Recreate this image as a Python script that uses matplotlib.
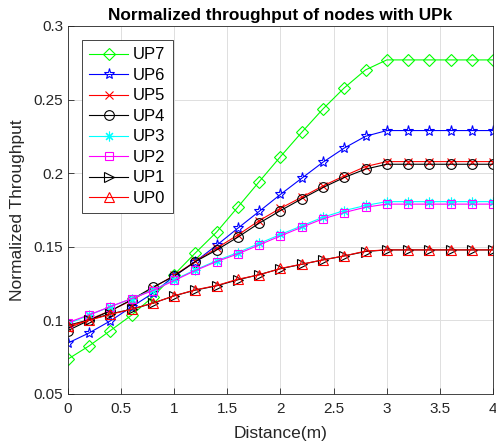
import matplotlib
matplotlib.use('Agg')
import matplotlib.pyplot as plt

plt.rcParams['font.family'] = ['Liberation Sans', 'DejaVu Sans']

distance = [0, 0.2, 0.4, 0.6, 0.8, 1.0, 1.2, 1.4, 1.6, 1.8, 2.0,
            2.2, 2.4, 2.6, 2.8, 3.0, 3.2, 3.4, 3.6, 3.8, 4.0]

up7 = [0.0736, 0.0826, 0.0930, 0.1035, 0.1160, 0.1310, 0.1458, 0.1600, 0.1770, 0.1942, 0.2112,
       0.2277, 0.2436, 0.2579, 0.2701, 0.2769, 0.2769, 0.2769, 0.2769, 0.2769, 0.2769]
up6 = [0.0845, 0.0914, 0.0996, 0.1091, 0.1184, 0.1300, 0.1399, 0.1510, 0.1626, 0.1740, 0.1855,
       0.1965, 0.2074, 0.2170, 0.2250, 0.2289, 0.2289, 0.2289, 0.2289, 0.2289, 0.2289]
up5 = [0.0945, 0.1005, 0.1065, 0.1135, 0.1220, 0.1305, 0.1400, 0.1490, 0.1580, 0.1677, 0.1761,
       0.1836, 0.1913, 0.1981, 0.2044, 0.2078, 0.2078, 0.2078, 0.2078, 0.2078, 0.2078]
up4 = [0.0930, 0.1000, 0.1064, 0.1140, 0.1225, 0.1300, 0.1399, 0.1478, 0.1565, 0.1660, 0.1745,
       0.1825, 0.1902, 0.1970, 0.2027, 0.2060, 0.2060, 0.2060, 0.2060, 0.2060, 0.2060]
up3 = [0.0975, 0.1035, 0.1092, 0.1147, 0.1205, 0.1275, 0.1343, 0.1405, 0.1460, 0.1522, 0.1583,
       0.1641, 0.1700, 0.1745, 0.1780, 0.1806, 0.1806, 0.1806, 0.1806, 0.1806, 0.1806]
up2 = [0.0984, 0.1037, 0.1093, 0.1147, 0.1202, 0.1270, 0.1338, 0.1399, 0.1451, 0.1512, 0.1573,
       0.1632, 0.1689, 0.1732, 0.1768, 0.1789, 0.1789, 0.1789, 0.1789, 0.1789, 0.1789]
up1 = [0.0965, 0.1003, 0.1043, 0.1075, 0.1116, 0.1166, 0.1205, 0.1234, 0.1275, 0.1310, 0.1350,
       0.1380, 0.1410, 0.1437, 0.1467, 0.1478, 0.1478, 0.1478, 0.1478, 0.1478, 0.1478]
up0 = [0.0960, 0.1000, 0.1040, 0.1075, 0.1116, 0.1166, 0.1207, 0.1236, 0.1279, 0.1308, 0.1352,
       0.1381, 0.1410, 0.1437, 0.1470, 0.1478, 0.1478, 0.1478, 0.1478, 0.1478, 0.1478]

series = [
    ('UP7', up7, '#00ff00', 'D', 6),
    ('UP6', up6, '#0000ff', '*', 8),
    ('UP5', up5, '#ff0000', 'x', 6),
    ('UP4', up4, 'black', 'o', 7),
    ('UP3', up3, '#00ffff', (8, 2, 0), 7),
    ('UP2', up2, '#ff00ff', 's', 6),
    ('UP1', up1, 'black', '>', 7),
    ('UP0', up0, '#ff0000', '^', 7),
]

fig = plt.figure(figsize=(4.96, 4.47), dpi=100)
ax = fig.add_axes([0.137, 0.119, 0.857, 0.823])

for name, vals, c, m, ms in series:
    ax.plot(distance, vals, color=c, marker=m, markersize=ms, linewidth=0.8,
            markerfacecolor='none', markeredgecolor=c, markeredgewidth=0.8, label=name)

ax.set_xlim(0, 4)
ax.set_ylim(0.05, 0.3)
ax.set_xticks([0, 0.5, 1, 1.5, 2, 2.5, 3, 3.5, 4])
ax.set_xticklabels(['0', '0.5', '1', '1.5', '2', '2.5', '3', '3.5', '4'])
ax.set_yticks([0.05, 0.1, 0.15, 0.2, 0.25, 0.3])
ax.set_yticklabels(['0.05', '0.1', '0.15', '0.2', '0.25', '0.3'])
ax.tick_params(direction='in', labelsize=11, colors='#262626', length=4, width=0.6)
ax.tick_params(axis='x', pad=6)
ax.grid(True, color='#dedede', linewidth=0.7)
ax.set_axisbelow(True)
for s in ax.spines.values():
    s.set_color('#262626')
    s.set_linewidth(0.6)

ax.set_xlabel('Distance(m)', fontsize=12.5, color='#262626', labelpad=7)
ax.set_ylabel('Normalized Throughput', fontsize=12.5, color='#262626', labelpad=6)
ax.set_title('Normalized throughput of nodes with UPk', fontsize=12.4, fontweight='bold', pad=4)

leg = ax.legend(loc='upper left', bbox_to_anchor=(0.033, 0.962), borderaxespad=0,
                fontsize=12, handlelength=2.3, fancybox=False, framealpha=1,
                edgecolor='#262626', borderpad=0.45, labelspacing=0.33, handletextpad=0.3)
leg.get_frame().set_linewidth(0.6)

fig.savefig('out.png', dpi=100)
